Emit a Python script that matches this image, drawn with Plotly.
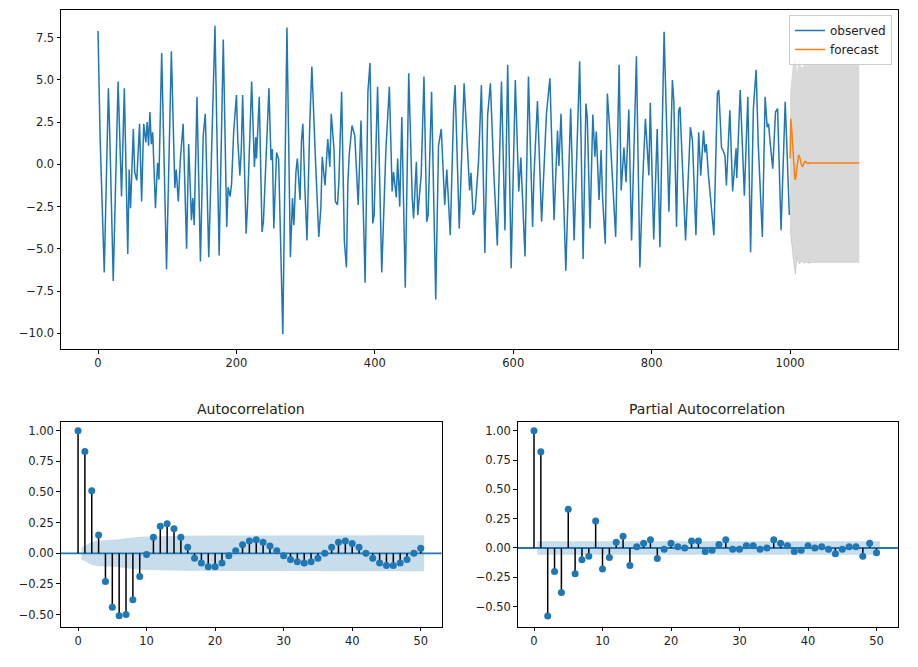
import plotly.graph_objects as go

# ---------------- data ----------------
obs_t = [0, 3, 9, 14, 15, 17, 22, 29, 34, 38, 43, 45, 47, 51, 53, 56, 60, 63, 66, 69, 71, 73, 75, 77, 79,
         83, 86, 88, 92, 99, 106, 111, 113, 116, 119, 123, 128, 131, 135, 137, 139, 143, 148, 152, 155,
         160, 169, 175, 181, 186, 188, 191, 193, 196, 200, 202, 205, 207, 209, 214, 216, 222, 226, 228,
         229, 233, 237, 239, 247, 250, 252, 254, 258, 261, 267, 273, 278, 281, 283, 286, 288, 290, 292,
         294, 296, 299, 302, 306, 309, 314, 319, 322, 324, 328, 330, 332, 335, 337, 341, 343, 346, 348,
         352, 356, 359, 361, 363, 367, 371, 376, 380, 386, 390, 393, 397, 399, 404, 410, 416, 421, 425,
         427, 431, 433, 436, 439, 444, 449, 454, 456, 460, 462, 467, 471, 475, 477, 482, 488, 492, 496,
         501, 504, 509, 514, 516, 518, 522, 529, 532, 537, 539, 542, 545, 550, 554, 559, 563, 567, 572,
         577, 583, 588, 592, 597, 603, 608, 611, 617, 622, 628, 630, 635, 641, 648, 653, 659, 662, 664,
         666, 669, 676, 683, 688, 690, 696, 701, 705, 707, 711, 715, 718, 720, 724, 727, 729, 733, 736,
         740, 748, 753, 756, 760, 763, 767, 771, 778, 783, 787, 791, 796, 798, 803, 808, 812, 818, 825,
         830, 832, 836, 839, 841, 849, 856, 859, 864, 868, 871, 875, 877, 879, 882, 890, 895, 897, 901,
         903, 906, 908, 913, 917, 922, 923, 928, 934, 939, 943, 947, 951, 954, 960, 964, 967, 969, 971,
         975, 979, 982, 987, 991, 993, 996, 999]
obs_v = [7.9, 1.6, -6.4, 4.4, 4.5, 1.7, -6.9, 4.9, -1.9, 4.5, -5.3, -0.3, -2.6, 2.1, -0.45, -0.95, 2.4,
         -2.2, 2.4, 1.3, 2.5, 1.1, 3.1, 1.2, 1.9, -2.6, 0.1, -0.9, 6.6, -6.2, 6.7, -1.4, -0.3, -2.2, 0.3,
         2.4, -5.0, 1.2, -3.3, -2.0, -3.6, 4.0, -5.75, 1.7, 3.0, -5.5, 8.2, -5.4, 7.4, -3.7, -1.35, -1.9,
         -1.15, 1.9, 4.1, 1.4, -0.65, 0.8, 4.1, -4.1, -2.5, 4.9, -0.15, 1.6, 0.35, 4.0, -4.0, -3.4, 4.5,
         0.25, 0.9, -3.8, 0.7, 0.3, -10.05, 8.1, -5.5, -2.0, -3.6, -0.45, 0.35, -0.9, -2.1, 1.4, 2.4,
         -1.55, -4.5, 2.4, 5.8, 0.5, -4.3, -2.6, 0.45, -1.25, 0.5, 1.5, -0.15, 3.0, 0.9, -2.2, -2.4,
         -1.05, 4.3, -4.6, -6.1, -1.15, 0.6, 2.3, 1.7, -2.4, 2.6, -7.0, 4.3, 6.0, -3.5, -3.0, 4.6, -6.4,
         0.9, 4.6, -1.6, -0.45, -1.95, 0.35, -2.5, 2.8, -7.3, 5.4, -1.95, -3.2, 0.15, -3.0, -0.65, 5.2,
         -3.4, -3.0, 4.3, -8.0, 1.1, 2.1, -2.4, -0.3, -4.2, 3.4, 4.7, 2.3, -3.8, 4.8, 2.7, -1.55, -0.5,
         -3.0, -2.7, 0.25, 4.7, -5.25, 2.9, 4.8, -0.55, -4.8, 4.9, -3.9, 5.9, -6.15, 5.0, -1.6, 0.4,
         -5.45, 5.2, -3.7, -0.65, 3.75, -3.4, 3.0, 5.1, -3.3, -0.05, 2.0, -0.1, 3.0, -6.3, 3.3, -4.5,
         -1.5, 6.1, -5.6, 3.6, 2.8, -3.8, 2.95, 0.45, 1.95, -2.1, 0.85, -1.9, -4.7, 4.2, 1.7, -4.3, 5.9,
         -1.55, 1.0, -1.05, 3.25, -4.5, 6.4, -6.1, -1.05, 2.7, -0.65, 3.65, -4.45, 2.1, -4.9, 7.85, -2.8,
         5.0, 3.8, -3.7, 3.2, 3.4, -4.5, 2.2, 1.4, -4.2, 1.9, -0.65, 2.0, 0.7, 1.2, -0.6, -4.2, 4.2, 4.4,
         1.0, 0.85, 0.5, -1.25, 3.2, -1.6, 0.95, -0.8, 4.4, -1.85, 4.0, -5.2, 3.3, 5.6, 1.3, -4.3, 4.0,
         2.2, 2.4, 1.4, -0.25, 3.1, 3.3, -3.9, 2.2, 3.7, 0.4, -3.0]

fc_t = [1000, 1001, 1002, 1003, 1004, 1005, 1006, 1007, 1008, 1009, 1010, 1011, 1012, 1013, 1014,
        1015, 1016, 1017, 1018, 1019, 1020, 1021, 1022, 1023, 1024, 1025, 1026, 1027, 1028, 1030,
        1040, 1060, 1080, 1100]
fc_v = [0.35, 2.7, 2.3, 1.6, 0.8, 0.1, -0.5, -0.85, -0.9, -0.6, -0.1, 0.3, 0.5, 0.55, 0.45, 0.25, 0.05,
        -0.1, -0.15, -0.05, 0.08, 0.15, 0.18, 0.15, 0.1, 0.06, 0.05, 0.07, 0.09, 0.08, 0.08, 0.08, 0.08,
        0.08]

band_t = [1000, 1002, 1004, 1006, 1008, 1010, 1012, 1014, 1016, 1018, 1020, 1024, 1028, 1032, 1100]
band_hi = [4.2, 5.3, 5.9, 6.3, 6.4, 5.5, 6.0, 6.2, 5.8, 5.7, 5.95, 5.85, 5.95, 5.9, 5.9]
band_lo = [-3.8, -4.6, -5.4, -6.1, -6.5, -5.5, -5.8, -5.9, -5.7, -5.75, -5.85, -5.8, -5.85, -5.8, -5.8]

lags = list(range(51))
acf_v = [1.00, 0.83, 0.51, 0.15, -0.23, -0.44, -0.51, -0.50, -0.38, -0.19, -0.01, 0.13, 0.22, 0.24,
         0.20, 0.13, 0.05, -0.04, -0.08, -0.11, -0.11, -0.08, -0.02, 0.02, 0.07, 0.10, 0.11, 0.09, 0.06,
         0.02, -0.02, -0.05, -0.07, -0.08, -0.07, -0.04, 0.00, 0.05, 0.09, 0.10, 0.08, 0.05, 0.00, -0.04,
         -0.08, -0.10, -0.10, -0.08, -0.05, 0.00, 0.04]
pacf_v = [1.00, 0.82, -0.58, -0.20, -0.38, 0.33, -0.22, -0.10, -0.07, 0.23, -0.18, -0.08, 0.05, 0.10,
          -0.15, 0.01, 0.04, 0.07, -0.09, -0.01, 0.04, 0.01, 0.00, 0.06, 0.06, -0.03, -0.02, 0.03, 0.07,
          -0.01, -0.01, 0.02, 0.02, -0.01, 0.00, 0.07, 0.04, 0.02, -0.03, -0.02, 0.02, 0.00, 0.01, -0.01,
          -0.05, -0.01, 0.01, 0.01, -0.07, 0.04, -0.04]

acf_band_x = [0.5, 1, 2, 3, 4, 5, 6, 7, 8, 9, 10, 12, 15, 20, 30, 40, 50.5]
acf_band_h = [0.05, 0.062, 0.095, 0.105, 0.106, 0.108, 0.115, 0.123, 0.13, 0.135, 0.137, 0.14, 0.143,
              0.145, 0.146, 0.147, 0.147]
pacf_band_x = [0.5, 50.5]
pacf_band_h = [0.058, 0.058]

# ---------------- styling ----------------
C0 = "#1f77b4"
C1 = "#ff7f0e"
FONT = "DejaVu Sans"
W, H = 918, 667


def fx(px):
    return px / W


def fy(py):
    return (H - py) / H


fig = go.Figure()

# forecast confidence band
fig.add_trace(go.Scatter(x=band_t, y=band_hi, mode="lines", line=dict(width=0, color="rgba(128,128,128,0)"),
                         showlegend=False, hoverinfo="skip", xaxis="x", yaxis="y"))
fig.add_trace(go.Scatter(x=band_t, y=band_lo, mode="lines", line=dict(width=0.8, color="rgba(128,128,128,0.3)"),
                         fill="tonexty", fillcolor="rgba(128,128,128,0.3)",
                         showlegend=False, hoverinfo="skip", xaxis="x", yaxis="y"))
fig.add_trace(go.Scatter(x=obs_t, y=obs_v, mode="lines", name="observed",
                         line=dict(color=C0, width=1.5), xaxis="x", yaxis="y"))
fig.add_trace(go.Scatter(x=fc_t, y=fc_v, mode="lines", name="forecast",
                         line=dict(color=C1, width=1.5), xaxis="x", yaxis="y"))


def corr_panel(xa, ya, vals, bx, bh):
    fig.add_trace(go.Scatter(x=bx, y=bh, mode="lines", line=dict(width=0), showlegend=False,
                             hoverinfo="skip", xaxis=xa, yaxis=ya))
    fig.add_trace(go.Scatter(x=bx, y=[-h for h in bh], mode="lines", line=dict(width=0),
                             fill="tonexty", fillcolor="rgba(31,119,180,0.25)", showlegend=False,
                             hoverinfo="skip", xaxis=xa, yaxis=ya))
    sx, sy = [], []
    for l, v in zip(lags, vals):
        sx += [l, l, None]
        sy += [0, v, None]
    fig.add_trace(go.Scatter(x=sx, y=sy, mode="lines", line=dict(color="black", width=1.5),
                             showlegend=False, hoverinfo="skip", xaxis=xa, yaxis=ya))
    fig.add_trace(go.Scatter(x=lags, y=vals, mode="markers", marker=dict(color=C0, size=7),
                             showlegend=False, xaxis=xa, yaxis=ya))
    fig.add_shape(type="line", xref=xa + " domain", yref=ya, x0=0, x1=1, y0=0, y1=0,
                  line=dict(color=C0, width=1.8), layer="below")


corr_panel("x2", "y2", acf_v, acf_band_x, acf_band_h)
corr_panel("x3", "y3", pacf_v, pacf_band_x, pacf_band_h)

axis_common = dict(showline=True, mirror=True, linecolor="black", linewidth=1, ticks="outside",
                   ticklen=3.5, tickwidth=0.8, tickcolor="black", showgrid=False, zeroline=False,
                   tickfont=dict(family=FONT, size=11.5, color="#222"), automargin=False)

fig.update_layout(
    width=W, height=H,
    margin=dict(l=0, r=0, t=0, b=0),
    paper_bgcolor="white", plot_bgcolor="white",
    font=dict(family=FONT, size=11.5, color="#222"),
    xaxis=dict(domain=[fx(61), fx(898)], range=[-53.5, 1156], tickvals=[0, 200, 400, 600, 800, 1000],
               anchor="y", **axis_common),
    yaxis=dict(domain=[fy(349), fy(10)], range=[-10.93, 9.14],
               tickvals=[-10, -7.5, -5, -2.5, 0, 2.5, 5, 7.5], tickformat=".1f", anchor="x", **axis_common),
    xaxis2=dict(domain=[fx(60.7), fx(441.7)], range=[-2.53, 53.06], tickvals=[0, 10, 20, 30, 40, 50],
                anchor="y2", **axis_common),
    yaxis2=dict(domain=[fy(626.7), fy(422.3)], range=[-0.599, 1.0685],
                tickvals=[-0.5, -0.25, 0, 0.25, 0.5, 0.75, 1.0], tickformat=".2f", anchor="x2", **axis_common),
    xaxis3=dict(domain=[fx(517.7), fx(898.3)], range=[-2.38, 53.18], tickvals=[0, 10, 20, 30, 40, 50],
                anchor="y3", **axis_common),
    yaxis3=dict(domain=[fy(626.7), fy(422.3)], range=[-0.671, 1.0716],
                tickvals=[-0.5, -0.25, 0, 0.25, 0.5, 0.75, 1.0], tickformat=".2f", anchor="x3", **axis_common),
    legend=dict(x=fx(892), xanchor="right", y=fy(15), yanchor="top", bgcolor="rgba(255,255,255,0.8)",
                bordercolor="#cccccc", borderwidth=1, font=dict(family=FONT, size=12, color="#222"),
                itemwidth=30, tracegroupgap=0, traceorder="normal"),
    annotations=[
        dict(text="Autocorrelation", x=fx(251), y=fy(409), xref="paper", yref="paper", showarrow=False,
             xanchor="center", yanchor="middle", font=dict(family=FONT, size=14, color="#222")),
        dict(text="Partial Autocorrelation", x=fx(707), y=fy(409), xref="paper", yref="paper",
             showarrow=False, xanchor="center", yanchor="middle", font=dict(family=FONT, size=14, color="#222")),
    ],
)

fig.write_html("out.html", config={"displayModeBar": False},
               post_script="document.body.style.margin='0';document.body.style.padding='0';")
